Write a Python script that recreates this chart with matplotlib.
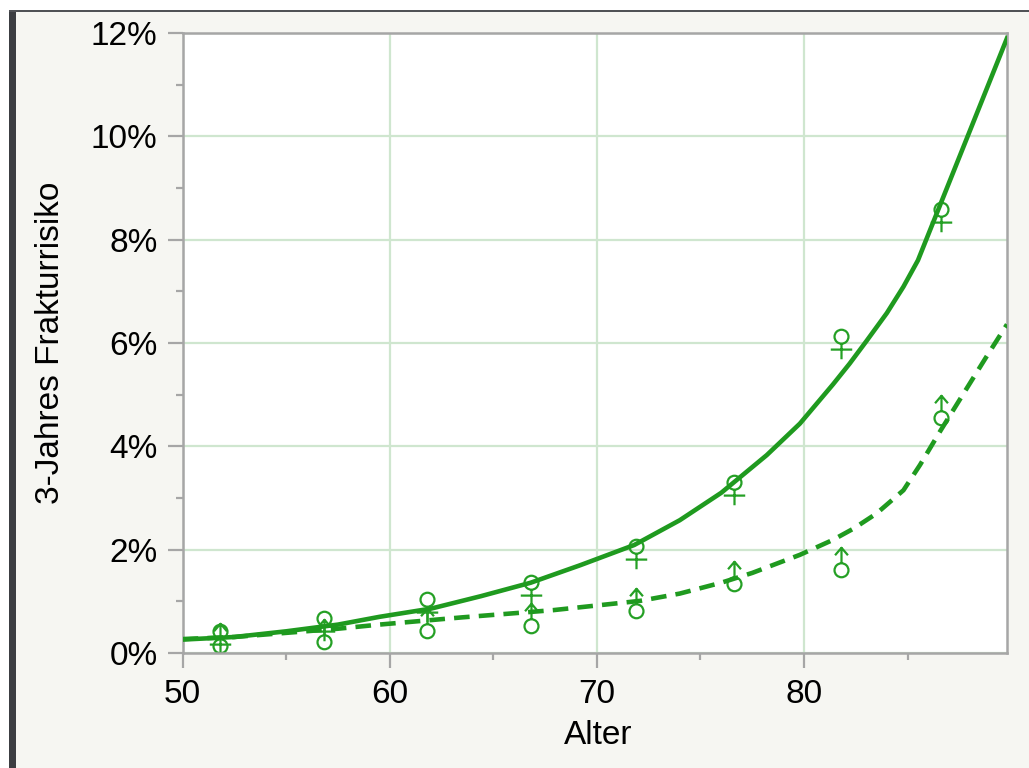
"""3-Jahres Frakturrisiko nach Alter, getrennt nach Geschlecht."""

import matplotlib

matplotlib.use("Agg")

import matplotlib.pyplot as plt
from matplotlib.patches import Rectangle
from matplotlib.path import Path
from matplotlib.ticker import MultipleLocator, PercentFormatter

# observed risk per age group (percent)
ages = [51.8, 56.8, 61.8, 66.8, 71.9, 76.6, 81.8, 86.6]
female_risk = [0.27, 0.53, 0.885, 1.21, 1.92, 3.15, 5.98, 8.44]
male_risk = [0.30, 0.36, 0.585, 0.68, 0.97, 1.50, 1.76, 4.71]

# fitted curves (percent)
female_curve_ages = [50, 52.5, 55, 57.5, 59.5, 62, 64.4, 66.8, 69.2, 71.8, 74, 76,
                     78.2, 79.8, 81.4, 82.2, 83, 84, 84.8, 85.5, 89.8]
female_curve = [0.26, 0.31, 0.42, 0.55, 0.70, 0.86, 1.10, 1.36, 1.70, 2.09, 2.57, 3.10,
                3.83, 4.44, 5.20, 5.60, 6.03, 6.58, 7.09, 7.60, 11.9]
male_curve_ages = [50, 52.5, 55, 57.5, 59.5, 63.5, 67.9, 72.1, 74, 76, 77.5, 79.8, 81.4,
                   82.4, 83.5, 84.8, 85.6, 86.6, 87.9, 88.8, 89.8]
male_curve = [0.27, 0.31, 0.39, 0.47, 0.55, 0.69, 0.83, 1.01, 1.15, 1.36, 1.55, 1.90, 2.19,
              2.41, 2.70, 3.15, 3.64, 4.31, 5.15, 5.73, 6.36]

GREEN = "#1f9a1f"
MARKER_GREEN = "#25a025"
GRID_GREEN = "#cfe6cf"
SPINE_GRAY = "#a6a6a6"
PANEL_BG = "#f6f6f2"


def _gender_marker(female: bool) -> Path:
    # glyph centred on the data point; circle sits at one end of the stem
    sign = 1.0 if female else -1.0
    cy = 7.25 * sign
    circle = Path.circle((0.0, cy), 6.5)
    stem_start = cy - 6.5 * sign
    stem_end = cy - 21.0 * sign
    stem = Path([(0.0, stem_start), (0.0, stem_end)], [Path.MOVETO, Path.LINETO])
    if female:
        bar_y = cy - 12.0
        extra = Path([(-10.0, bar_y), (10.0, bar_y)], [Path.MOVETO, Path.LINETO])
    else:
        extra = Path(
            [(-6.0, stem_end - 7.0), (0.0, stem_end), (6.0, stem_end - 7.0)],
            [Path.MOVETO, Path.LINETO, Path.LINETO],
        )
    return Path.make_compound_path(circle, stem, extra)


plt.rcParams["font.family"] = ["Liberation Sans", "DejaVu Sans"]

figure = plt.figure(figsize=(10.29, 7.68), dpi=100, facecolor=PANEL_BG)

# window chrome: white margin, dark left bar and top rule
figure.add_artist(Rectangle((0, 1 - 10 / 768), 1, 10 / 768, transform=figure.transFigure,
                            facecolor="white", edgecolor="none"))
figure.add_artist(Rectangle((0, 0), 9 / 1029, 1, transform=figure.transFigure,
                            facecolor="white", edgecolor="none"))
figure.add_artist(Rectangle((9 / 1029, 0), 7 / 1029, 1 - 10 / 768, transform=figure.transFigure,
                            facecolor="#3c3e42", edgecolor="none"))
figure.add_artist(Rectangle((9 / 1029, 1 - 12 / 768), 1, 2 / 768, transform=figure.transFigure,
                            facecolor="#505256", edgecolor="none"))

axis = figure.add_axes([182.7 / 1029, 1 - 653 / 768, (1007 - 182.7) / 1029, (653 - 33) / 768])
axis.set_facecolor("white")

axis.plot(female_curve_ages, female_curve, color=GREEN, linewidth=3.3,
          solid_joinstyle="round", zorder=3)
axis.plot(male_curve_ages, male_curve, color=GREEN, linewidth=3.3, dashes=(3.4, 2.0),
          zorder=3)

marker_size = 29.5 * 0.72
axis.plot(ages, female_risk, linestyle="none", marker=_gender_marker(True),
          markersize=marker_size, markerfacecolor="none", markeredgecolor=MARKER_GREEN,
          markeredgewidth=1.6, zorder=2)
axis.plot(ages, male_risk, linestyle="none", marker=_gender_marker(False),
          markersize=marker_size, markerfacecolor="none", markeredgecolor=MARKER_GREEN,
          markeredgewidth=1.6, zorder=2)

axis.set_xlim(50, 89.8)
axis.set_ylim(0, 12)
axis.xaxis.set_major_locator(MultipleLocator(10))
axis.xaxis.set_minor_locator(MultipleLocator(5))
axis.yaxis.set_major_locator(MultipleLocator(2))
axis.yaxis.set_minor_locator(MultipleLocator(1))
axis.yaxis.set_major_formatter(PercentFormatter(decimals=0))

axis.grid(which="major", color=GRID_GREEN, linewidth=1.6, zorder=0)
axis.set_axisbelow(True)
for spine in axis.spines.values():
    spine.set_color(SPINE_GRAY)
    spine.set_linewidth(1.8)

axis.tick_params(which="major", length=11, width=1.6, color=SPINE_GRAY,
                 labelsize=24, pad=7)
axis.tick_params(which="minor", length=5, width=1.6, color=SPINE_GRAY)
axis.tick_params(axis="x", which="major", pad=8)

axis.set_xlabel("Alter", fontsize=24)
axis.set_ylabel("3-Jahres Frakturrisiko", fontsize=24)
axis.xaxis.set_label_coords(0.5045, -0.108)
axis.yaxis.set_label_coords(-0.142, 0.5)

figure.savefig("out.png", dpi=100, facecolor=PANEL_BG)
plt.close(figure)
